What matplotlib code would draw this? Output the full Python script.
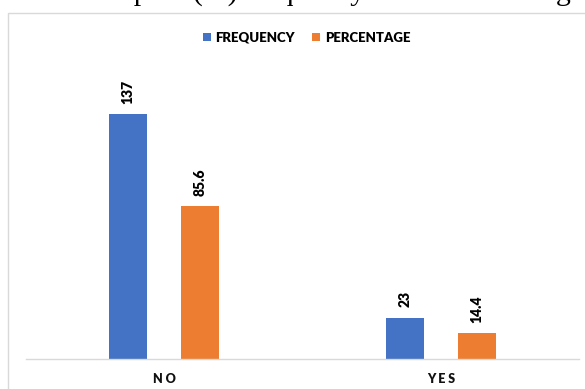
import matplotlib
matplotlib.use("Agg")
import matplotlib.pyplot as plt
from matplotlib.patches import Rectangle
import numpy as np

categories = ["NO", "YES"]
tick_labels = ["N O", "Y E S"]
series_names = ["FREQUENCY", "PERCENTAGE"]
frequency = [137, 23]
percentage = [85.6, 14.4]
colors = ["#4472C4", "#ED7D31"]

W, H = 585, 389
fig = plt.figure(figsize=(W / 100, H / 100), dpi=100)
fig.patch.set_facecolor("white")

# caption line from the page above the chart (only its lower part is in frame)
fig.text(571 / W, 1 - 0.5 / H, "Knee pain (%) frequency of knee swelling",
         ha="right", va="baseline", fontsize=21.6, family="Liberation Serif",
         color="black")

# chart area border
fig.patches.append(Rectangle((8 / W, -0.1), 1.2, 1 - 13 / H + 0.1,
                             transform=fig.transFigure, fill=False,
                             edgecolor="#d9d9d9", linewidth=1.0))

ax = fig.add_axes([26 / W, 1 - 359 / H, 553 / W, 286 / H])
x = np.arange(len(categories))
width = 0.137
offset = 0.13

bars = []
for vals, off, col, name in zip([frequency, percentage], [-offset, offset],
                                colors, series_names):
    b = ax.bar(x + off, vals, width, color=col, label=name)
    bars.append(b)
    for rect, v in zip(b, vals):
        ax.annotate(f"{v:g}", (rect.get_x() + rect.get_width() / 2, v),
                    xytext=(0, 7.5), textcoords="offset points",
                    ha="center", va="bottom", rotation=90,
                    fontsize=10, fontweight="heavy", family="Lato",
                    color="black")

ax.set_xlim(-0.5, 1.5)
ax.set_ylim(0, 160)
ax.set_yticks([])
ax.set_xticks(x)
ax.set_xticklabels(tick_labels, fontsize=9, fontweight="heavy",
                   family="Lato", color="#111111")
ax.tick_params(axis="x", length=0, pad=10)
for s in ["top", "right", "left"]:
    ax.spines[s].set_visible(False)
ax.spines["bottom"].set_color("#d9d9d9")
ax.spines["bottom"].set_linewidth(1.0)
ax.set_facecolor("none")

leg = fig.legend(handles=bars, labels=series_names, loc="center",
                 bbox_to_anchor=(306.5 / W, 1 - 37.5 / H), ncol=2,
                 frameon=False, handlelength=0.6, handleheight=0.6,
                 handletextpad=0.35, columnspacing=1.3,
                 prop={"family": "Lato", "weight": "heavy", "size": 9.5})

fig.savefig("out.png", dpi=100, facecolor="white")
